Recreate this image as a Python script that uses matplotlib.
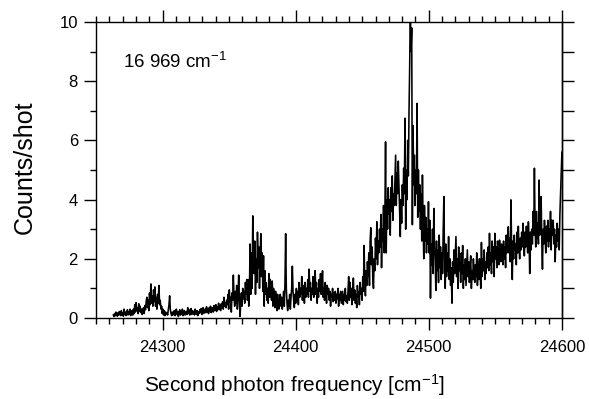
import numpy as np
import matplotlib
matplotlib.use("Agg")
import matplotlib.pyplot as plt
from matplotlib.ticker import MultipleLocator, NullFormatter

plt.rcParams['font.family'] = ['Liberation Sans', 'DejaVu Sans']
plt.rcParams['mathtext.fontset'] = 'custom'
plt.rcParams['mathtext.rm'] = 'Liberation Sans'
plt.rcParams['mathtext.it'] = 'Liberation Sans:italic'
plt.rcParams['mathtext.bf'] = 'Liberation Sans:bold'

# Spectrum: counts per shot, sampled evenly from freq_start to freq_end
freq_start = 24263.0
freq_end = 24600.0
counts = [
    0.10, 0.05, 0.15, 0.08, 0.20, 0.12, 0.06, 0.18, 0.10, 0.22,
    0.14, 0.08, 0.25, 0.10, 0.18, 0.06, 0.30, 0.12, 0.20, 0.08,
    0.15, 0.28, 0.10, 0.22, 0.12, 0.30, 0.08, 0.18, 0.25, 0.10,
    0.30, 0.15, 0.45, 0.20, 0.52, 0.25, 0.35, 0.15, 0.48, 0.22,
    0.40, 0.18, 0.30, 0.12, 0.25, 0.35, 0.15, 0.42, 0.28, 0.55,
    0.70, 0.35, 0.60, 0.25, 0.85, 0.45, 1.15, 0.50, 0.75, 0.40,
    0.95, 0.55, 1.05, 0.40, 0.70, 0.30, 0.80, 0.50, 1.10, 0.45,
    0.60, 0.30, 0.40, 0.15, 0.30, 0.10, 0.25, 0.08, 0.20, 0.12,
    0.18, 0.10, 0.28, 0.45, 0.75, 0.30, 0.15, 0.08, 0.20, 0.10,
    0.15, 0.25, 0.08, 0.18, 0.30, 0.12, 0.22, 0.05, 0.15, 0.28,
    0.10, 0.20, 0.12, 0.30, 0.08, 0.18, 0.25, 0.10, 0.15, 0.22,
    0.12, 0.35, 0.15, 0.28, 0.10, 0.20, 0.32, 0.12, 0.25, 0.15,
    0.22, 0.10, 0.30, 0.18, 0.12, 0.25, 0.08, 0.20, 0.15, 0.28,
    0.18, 0.32, 0.12, 0.25, 0.35, 0.15, 0.22, 0.30, 0.18, 0.38,
    0.20, 0.30, 0.15, 0.35, 0.22, 0.40, 0.18, 0.28, 0.35, 0.20,
    0.42, 0.25, 0.32, 0.45, 0.22, 0.38, 0.28, 0.50, 0.30, 0.40,
    0.25, 0.48, 0.35, 0.55, 0.30, 0.70, 0.40, 0.52, 0.35, 0.60,
    0.45, 0.80, 0.30, 0.95, 0.55, 0.70, 0.20, 0.85, 0.60, 1.45,
    0.70, 0.40, 0.90, 0.50, 1.10, 0.30, 0.75, 1.45, 0.60, 0.05,
    0.50, 0.85, 0.40, 1.00, 0.65, 0.90, 0.50, 1.20, 0.80, 1.30,
    0.60, 1.30, 0.40, 0.95, 2.50, 0.80, 2.20, 1.00, 3.45, 2.30,
    1.50, 2.60, 0.80, 2.00, 1.20, 2.90, 1.70, 2.40, 1.00, 2.10,
    2.85, 1.40, 2.20, 0.90, 2.10, 0.40, 1.60, 0.80, 1.20, 0.60,
    1.00, 0.50, 1.50, 0.70, 1.30, 0.90, 0.60, 1.25, 0.40, 1.00,
    0.70, 0.35, 0.90, 0.50, 0.25, 0.80, 0.45, 0.30, 0.60, 0.80,
    0.40, 0.70, 0.30, 0.55, 0.90, 0.40, 1.20, 2.85, 1.00, 0.50,
    0.25, 0.60, 0.40, 0.80, 0.30, 0.70, 1.00, 1.75, 0.90, 0.60,
    0.35, 0.80, 0.50, 1.00, 0.60, 0.90, 0.45, 1.20, 0.70, 1.00,
    0.80, 1.40, 0.60, 1.10, 0.90, 0.50, 1.20, 0.70, 1.00, 0.80,
    1.30, 0.70, 1.65, 0.90, 1.20, 0.60, 1.00, 0.80, 1.40, 0.70,
    1.10, 1.60, 0.80, 1.20, 0.50, 1.00, 0.70, 1.30, 0.90, 1.50,
    0.80, 1.10, 1.60, 0.70, 1.00, 0.60, 1.20, 0.90, 0.50, 1.10,
    0.80, 1.00, 0.60, 0.90, 0.40, 0.80, 0.70, 1.00, 0.55, 0.85,
    0.60, 0.90, 0.50, 0.80, 0.65, 1.00, 0.40, 0.80, 0.60, 0.90,
    0.50, 0.70, 0.90, 0.45, 0.80, 0.60, 1.00, 0.55, 0.75, 0.50,
    0.90, 1.40, 0.60, 1.20, 0.70, 1.00, 0.45, 0.85, 1.35, 0.60,
    0.95, 0.50, 0.80, 0.35, 1.10, 0.70, 0.90, 0.45, 1.20, 0.80,
    1.00, 0.60, 1.40, 0.90, 2.45, 1.20, 0.75, 1.60, 1.10, 1.90,
    1.40, 2.20, 1.10, 2.60, 3.05, 1.80, 2.40, 1.30, 1.00, 2.00,
    1.60, 2.70, 2.00, 3.25, 1.80, 2.60, 2.20, 3.00, 2.40, 3.50,
    1.70, 3.00, 2.60, 3.80, 2.20, 3.40, 5.95, 2.20, 4.00, 3.00,
    4.40, 3.50, 4.00, 2.80, 4.40, 3.60, 4.80, 3.30, 4.20, 3.80,
    4.60, 5.50, 3.80, 4.90, 4.20, 5.30, 4.50, 3.60, 2.75, 4.00,
    3.20, 4.50, 3.80, 5.06, 4.20, 6.75, 3.00, 5.00, 4.00, 6.00,
    4.80, 7.00, 8.55, 10.5, 9.00, 9.80, 3.15, 6.50, 4.50, 5.50,
    3.80, 5.00, 4.20, 7.25, 3.40, 5.00, 3.60, 4.50, 3.00, 4.20,
    2.60, 4.83, 3.20, 2.00, 3.80, 2.60, 3.40, 2.20, 3.00, 2.50,
    3.93, 2.20, 3.30, 0.67, 2.50, 1.80, 3.00, 1.50, 3.70, 2.40,
    2.00, 0.93, 2.60, 1.60, 2.30, 1.20, 2.80, 1.70, 2.40, 1.30,
    2.20, 1.50, 3.00, 4.10, 1.80, 1.00, 2.50, 1.40, 2.20, 1.60,
    2.75, 1.30, 2.00, 1.10, 1.70, 0.50, 1.90, 1.20, 2.30, 1.50,
    2.10, 2.75, 1.40, 2.00, 1.00, 2.40, 1.60, 1.90, 1.20, 2.20,
    1.50, 2.45, 1.00, 1.80, 1.30, 2.00, 1.10, 1.70, 2.30, 1.40,
    1.90, 1.20, 1.70, 2.10, 1.00, 1.60, 1.30, 2.00, 1.50, 1.20,
    1.80, 1.40, 2.20, 1.10, 1.90, 1.30, 2.00, 1.60, 1.00, 2.55,
    1.40, 2.00, 1.60, 2.30, 1.30, 1.90, 1.50, 2.20, 1.70, 2.40,
    1.60, 2.86, 1.80, 2.20, 1.50, 2.60, 1.90, 2.40, 1.40, 2.86,
    2.00, 2.40, 1.70, 2.60, 2.10, 1.80, 2.63, 2.20, 1.90, 2.50,
    2.30, 1.80, 2.60, 2.00, 2.40, 1.70, 2.80, 2.20, 2.50, 3.08,
    2.20, 2.70, 1.90, 3.99, 2.40, 1.30, 2.60, 2.00, 2.80, 2.30,
    2.50, 1.80, 2.90, 2.20, 3.10, 2.40, 2.00, 2.70, 2.30, 2.90,
    2.40, 3.20, 2.60, 2.10, 2.90, 2.40, 3.10, 2.60, 2.20, 3.25,
    2.70, 1.50, 2.90, 2.30, 3.00, 2.50, 3.60, 2.80, 5.06, 3.00,
    2.40, 3.60, 2.70, 3.20, 2.50, 4.66, 2.80, 3.40, 4.10, 2.60,
    1.65, 3.00, 2.50, 3.30, 2.70, 2.20, 3.10, 2.60, 3.30, 2.40,
    3.00, 2.60, 3.60, 2.30, 3.30, 2.80, 3.30, 2.50, 3.00, 1.90,
    2.80, 2.40, 3.20, 2.60, 3.00, 2.30, 3.50, 4.20, 4.90, 5.60,
]

x_label = "Second photon frequency [cm$^{-1}$]"
y_label = "Counts/shot"
annotation = "16 969 cm$^{-1}$"

freq = np.linspace(freq_start, freq_end, len(counts))

fig = plt.figure(figsize=(5.89, 3.99), dpi=100)
ax = fig.add_axes([0.163, 0.203, 0.791, 0.742])
ax.plot(freq, counts, color='black', linewidth=1.15)

ax.set_xlim(24250, 24600)
ax.set_ylim(0, 10)

ax.xaxis.set_major_locator(MultipleLocator(100))
ax.xaxis.set_minor_locator(MultipleLocator(10))
ax.yaxis.set_major_locator(MultipleLocator(2))
ax.yaxis.set_minor_locator(MultipleLocator(1))

ax.tick_params(axis='x', which='both', direction='out', top=True, bottom=True,
               labelsize=12, width=1.0, pad=7)
ax.tick_params(axis='x', which='major', length=8.5)
ax.tick_params(axis='x', which='minor', length=4.3)
ax.tick_params(axis='y', which='both', direction='out', left=True, right=False,
               labelsize=12, width=1.0, pad=4.5)
ax.tick_params(axis='y', which='major', length=8.5)
ax.tick_params(axis='y', which='minor', length=4.5)

sec = ax.secondary_yaxis('right')
sec.yaxis.set_major_locator(MultipleLocator(1))
sec.yaxis.set_major_formatter(NullFormatter())
sec.tick_params(which='major', direction='out', length=8.5, width=1.0)
sec.spines['right'].set_linewidth(1.0)

for s in ax.spines.values():
    s.set_linewidth(1.0)

ax.set_xlabel(x_label, fontsize=15)
ax.xaxis.set_label_coords(0.426, -0.226, transform=ax.transAxes)
ax.xaxis.label.set_va('center')
ax.set_ylabel(y_label, fontsize=18)
ax.yaxis.set_label_coords(-0.152, 0.51, transform=ax.transAxes)
ax.yaxis.label.set_va('center')
ax.text(0.058, 0.865, annotation, transform=ax.transAxes, fontsize=13.5,
        ha='left', va='center')

fig.savefig("out.png", dpi=100)
